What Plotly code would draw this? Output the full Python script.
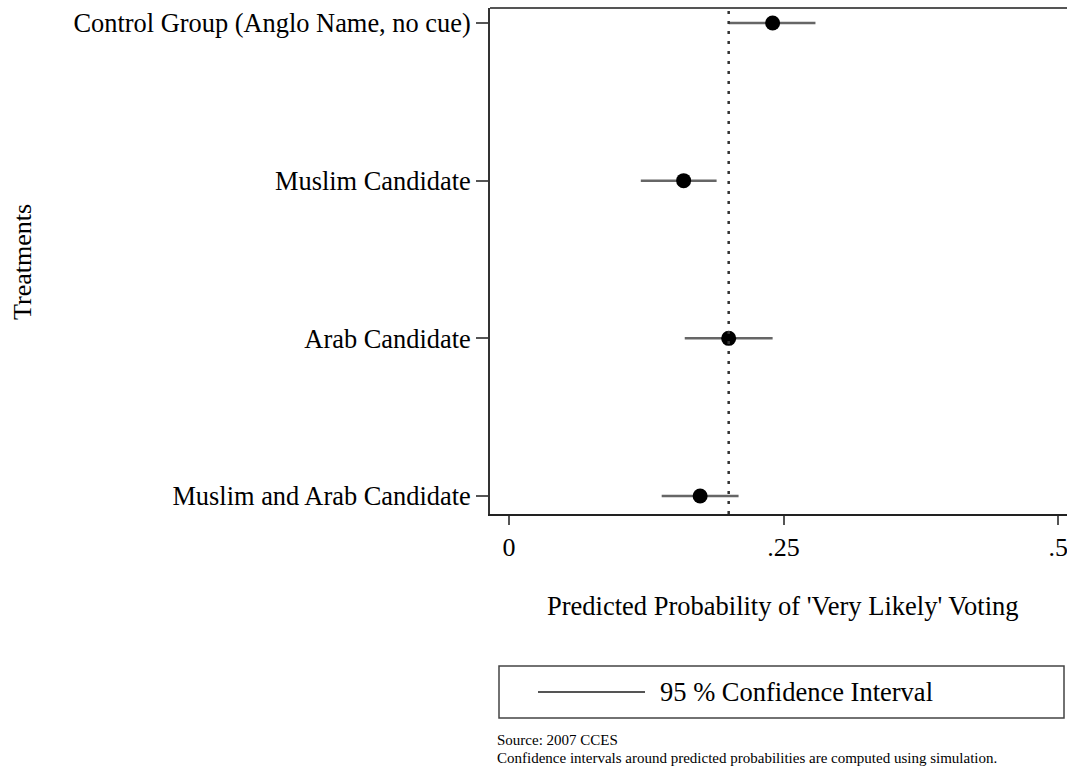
import plotly.graph_objects as go

# ---- data ----
treatments = ["Muslim and Arab Candidate", "Arab Candidate", "Muslim Candidate",
              "Control Group (Anglo Name, no cue)"]
pred_prob = [0.174, 0.200, 0.159, 0.240]
ci_low = [0.139, 0.160, 0.120, 0.200]
ci_high = [0.209, 0.240, 0.189, 0.279]
reference_value = 0.20
x_tickvals = [0, 0.25, 0.5]
x_ticktext = ["0", ".25", ".5"]

FONT = "Liberation Serif"
W, H = 1067, 769
ML, MR, MT, MB = 490, 0, 8, 255
PW, PH = W - ML - MR, H - MT - MB


def px(x):
    return (x - ML) / PW


def py(y):
    return (H - MB - y) / PH


fig = go.Figure()

fig.add_trace(go.Scatter(
    x=pred_prob, y=treatments, mode="markers",
    marker=dict(color="black", size=15),
    error_x=dict(type="data", symmetric=False,
                 array=[h - p for h, p in zip(ci_high, pred_prob)],
                 arrayminus=[p - l for p, l in zip(pred_prob, ci_low)],
                 color="#666666", thickness=2.5, width=0),
    showlegend=False, hoverinfo="x+y",
))

shapes = [
    # dotted reference line
    dict(type="line", xref="x", yref="paper", x0=reference_value, x1=reference_value,
         y0=0, y1=1, line=dict(color="#333333", width=2.5, dash="3px,7px")),
    # top border
    dict(type="line", xref="paper", yref="paper", x0=0, x1=1, y0=1, y1=1,
         line=dict(color="#555555", width=2)),
    # legend box
    dict(type="rect", xref="paper", yref="paper", x0=px(499), x1=px(1064),
         y0=py(718), y1=py(666), line=dict(color="#444444", width=1.5)),
    # legend line sample
    dict(type="line", xref="paper", yref="paper", x0=px(538), x1=px(645),
         y0=py(692), y1=py(692), line=dict(color="#555555", width=2)),
]

annotations = [
    dict(text="Treatments", xref="paper", yref="paper", x=px(22), y=py(262),
         textangle=-90, showarrow=False, font=dict(family=FONT, size=26, color="black"),
         xanchor="center", yanchor="middle"),
    dict(text="Predicted Probability of 'Very Likely' Voting", xref="paper", yref="paper",
         x=px(783), y=py(606), showarrow=False,
         font=dict(family=FONT, size=26.5, color="black"), xanchor="center", yanchor="middle"),
    dict(text="95 % Confidence Interval", xref="paper", yref="paper",
         x=px(658), y=py(692), showarrow=False,
         font=dict(family=FONT, size=26.5, color="black"), xanchor="left", yanchor="middle"),
    dict(text="Source: 2007 CCES", xref="paper", yref="paper",
         x=px(496), y=py(740), showarrow=False, borderpad=0,
         font=dict(family=FONT, size=15, color="black"), xanchor="left", yanchor="middle"),
    dict(text="Confidence intervals around predicted probabilities are computed using simulation.",
         xref="paper", yref="paper", x=px(496), y=py(758), showarrow=False, borderpad=0,
         font=dict(family=FONT, size=15, color="black"), xanchor="left", yanchor="middle"),
]

fig.update_layout(
    width=W, height=H,
    margin=dict(l=ML, r=MR, t=MT, b=MB, pad=0),
    paper_bgcolor="white", plot_bgcolor="white",
    font=dict(family=FONT, size=26, color="black"),
    shapes=shapes, annotations=annotations,
    showlegend=False,
    xaxis=dict(range=[-0.0173, 0.508], tickvals=x_tickvals, ticktext=x_ticktext,
               showgrid=False, zeroline=False, showline=True, linecolor="#222222",
               linewidth=2, ticks="outside", ticklen=9, tickwidth=2, tickcolor="#555555",
               ticklabeloverflow="allow", automargin=False,
               tickfont=dict(family=FONT, size=26, color="black")),
    yaxis=dict(type="category", categoryorder="array", categoryarray=treatments,
               range=[-0.114, 3.095], showgrid=False, zeroline=False, showline=True,
               linecolor="#333333", linewidth=2, ticks="outside", ticklen=12,
               tickwidth=2, tickcolor="#555555", automargin=False,
               tickfont=dict(family=FONT, size=26.4, color="black")),
)

fig.write_html("out.html")
